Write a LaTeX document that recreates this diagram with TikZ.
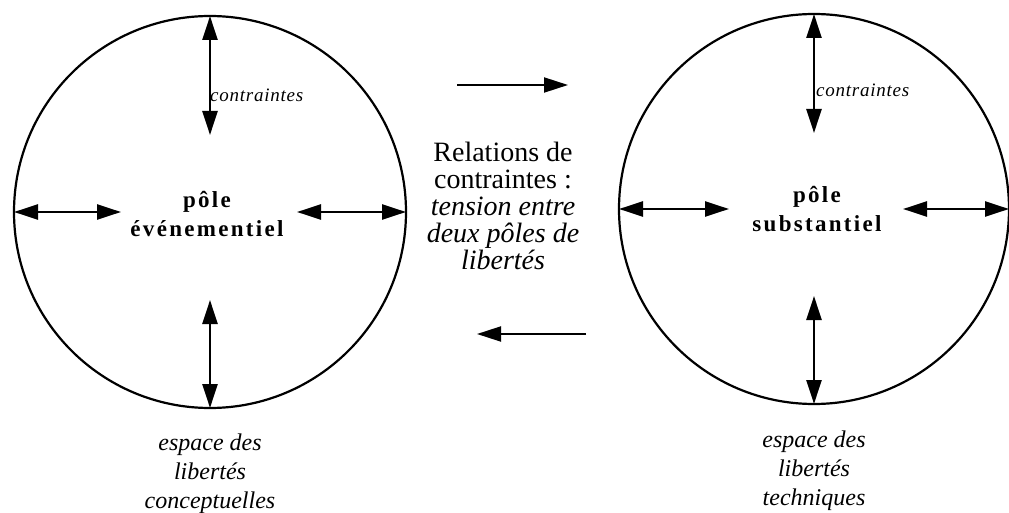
\documentclass[tikz,border=0pt]{standalone}
\usepackage{fontspec}
\setmainfont{Liberation Serif}
\newfontfamily\spacedbold[LetterSpace=10]{Liberation Serif}
\newfontfamily\spacedital[LetterSpace=4]{Liberation Serif}
\usetikzlibrary{positioning,arrows.meta,calc}

\begin{document}
\begin{tikzpicture}[
  x=1pt, y=-1pt,
  >={Triangle[length=24pt,width=15pt]},
  pole/.style={draw, circle, line width=2.2pt, minimum size=392pt, inner sep=0pt, outer sep=0pt},
  poletxt/.style={font=\fontsize{23}{29}\selectfont\spacedbold\bfseries, align=center, inner sep=0pt},
  tens/.style={<->, line width=2.4pt},
  flow/.style={->, line width=2pt},
  cstr/.style={font=\fontsize{19}{20}\selectfont\spacedital\itshape, inner sep=0pt, anchor=base west},
  space/.style={font=\fontsize{24}{29}\selectfont\itshape, align=center, inner sep=0pt},
  rel/.style={font=\fontsize{28}{27}\selectfont, align=center, inner sep=0pt},
]
\useasboundingbox (0,0) rectangle (1009,513);

% Pole evenementiel (left)
\node[pole] (evt) at (210,212) {};
\node[poletxt] (evttxt) at (207,214) {pôle\\événementiel};
\coordinate (evttop) at (210,135);
\coordinate (evtleft) at (121,212);
\coordinate (evtright) at (297,212);
\coordinate (evtbot) at (210,300);
\draw[tens] (evt.north) -- (evttop);
\draw[tens] (evt.west) -- (evtleft);
\draw[tens] (evtright) -- (evt.east);
\draw[tens] (evtbot) -- (evt.south);
\node[cstr] (evtcstr) at (210,102) {contraintes};
\node[space, below=26pt of evt] (evtspace) {espace des\\libertés\\conceptuelles};

% Pole substantiel (right)
\node[pole, minimum size=390pt] (sub) at (814,209) {};
\node[poletxt] (subtxt) at (817,209) {pôle\\substantiel};
\coordinate (subtop) at (814,133);
\coordinate (subleft) at (729,209);
\coordinate (subright) at (903,209);
\coordinate (subbot) at (814,296);
\draw[tens] (sub.north) -- (subtop);
\draw[tens] (sub.west) -- (subleft);
\draw[tens] (subright) -- (sub.east);
\draw[tens] (subbot) -- (sub.south);
\node[cstr] (subcstr) at (816,97) {contraintes};
\node[space, below=27pt of sub] (subspace) {espace des\\libertés\\techniques};

% Relations between the two poles
\node[rel] (relation) at (503,206) {Relations de\\contraintes :\\\textit{tension entre}\\\textit{deux pôles de}\\\textit{libertés}};
\coordinate (toptail) at (457,85);
\coordinate (tophead) at (568,85);
\coordinate (bottail) at (586,334);
\coordinate (bothead) at (477,334);
\draw[flow] (toptail) -- (tophead);
\draw[flow] (bottail) -- (bothead);

\end{tikzpicture}
\end{document}
